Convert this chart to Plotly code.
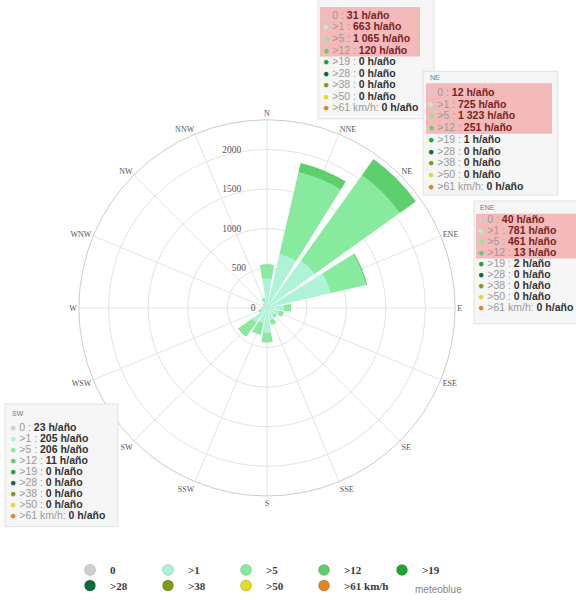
import plotly.graph_objects as go

# Wind rose: hours per year by direction and wind speed class
directions = ["N", "NNE", "NE", "ENE", "E", "ESE", "SE", "SSE",
              "S", "SSW", "SW", "WSW", "W", "WNW", "NW", "NNW"]
speed_labels = ["0", ">1", ">5", ">12", ">19", ">28", ">38", ">50", ">61 km/h"]
speed_colors = ["#cfcfcf", "#aef3d8", "#88ea9e", "#5dcf6c", "#1ea62b",
                "#0b6b3b", "#7d9b16", "#e3dc1c", "#e0861c"]

hours_0 = [10, 31, 12, 40, 10, 8, 6, 8, 15, 15, 23, 10, 8, 5, 5, 8]
hours_1 = [360, 663, 725, 781, 200, 150, 110, 150, 300, 180, 205, 60, 40, 30, 40, 80]
hours_5 = [175, 1065, 1323, 461, 90, 60, 40, 60, 120, 150, 206, 40, 20, 10, 20, 40]
hours_12 = [5, 120, 251, 13, 5, 2, 1, 2, 3, 5, 11, 1, 0, 0, 0, 1]
hours_19 = [0, 0, 1, 2, 0, 0, 0, 0, 0, 0, 0, 0, 0, 0, 0, 0]
hours_28 = [0, 0, 0, 0, 0, 0, 0, 0, 0, 0, 0, 0, 0, 0, 0, 0]
hours_38 = [0, 0, 0, 0, 0, 0, 0, 0, 0, 0, 0, 0, 0, 0, 0, 0]
hours_50 = [0, 0, 0, 0, 0, 0, 0, 0, 0, 0, 0, 0, 0, 0, 0, 0]
hours_61 = [0, 0, 0, 0, 0, 0, 0, 0, 0, 0, 0, 0, 0, 0, 0, 0]

radial_ticks = [0, 500, 1000, 1500, 2000]

series = [hours_0, hours_1, hours_5, hours_12, hours_19,
          hours_28, hours_38, hours_50, hours_61]

W, H = 576, 600
SERIF = "Liberation Serif"
SANS = "Liberation Sans"
FIG_SPACE = "\u2007"


def px_x(x):
    return x / W


def px_y(y):
    return 1 - y / H


fig = go.Figure()

# stacked bars, one trace per speed class (width in category units)
for lab, vals, col in zip(speed_labels, series, speed_colors):
    fig.add_trace(go.Barpolar(
        r=vals, theta=directions, name=lab, width=0.84,
        marker=dict(color=col, line=dict(width=0)),
        legendgroup=lab, showlegend=False,
    ))

# circular legend markers, laid out on two rows
for i, (lab, col) in enumerate(zip(speed_labels, speed_colors)):
    fig.add_trace(go.Scatterpolar(
        r=[None], theta=[None], mode="markers", name=f"<b>{lab}</b>",
        marker=dict(color=col, size=11, symbol="circle",
                    line=dict(color="rgba(0,0,0,0.15)", width=1)),
        legendgroup=lab, showlegend=True,
        legend="legend" if i < 5 else "legend2",
    ))
# blank slot so the last entry of the second row has room for its text
fig.add_trace(go.Scatterpolar(
    r=[None], theta=[None], mode="markers", name=" ",
    marker=dict(color="rgba(0,0,0,0)", size=1),
    showlegend=True, legend="legend2", hoverinfo="skip",
))

cx, cy, rad = 267, 311, 190
legend_style = dict(
    orientation="h", xanchor="left", yanchor="top",
    entrywidth=33, entrywidthmode="pixels",
    font=dict(family=SERIF, size=11, color="#3a3a3a"),
    bgcolor="rgba(0,0,0,0)", itemclick=False, tracegroupgap=0,
)


def fmt(v):
    return f"{v:,}".replace(",", " ")


def row_text(idx, k, highlight):
    lab, vals, col = speed_labels[k], series[k], speed_colors[k]
    sep = ": " if lab.endswith("km/h") else " : "
    vcol = "#7a2222" if highlight else "#333"
    return (f"<span style='color:{col}'>●</span> "
            f"<span style='color:#9a9a9a'>{lab}{sep}</span>"
            f"<span style='color:{vcol}'><b>{fmt(vals[idx])} h/año</b></span>")


# radial labels sit just left of the north spoke: pad each one with
# digit-wide spaces so its visible digits end before the line
radial_text = [str(v) + FIG_SPACE * (len(str(v)) + 1) for v in radial_ticks]

# direction, box (l, t, r, b), pink band (l, t, r, b) or None,
# header y (None: above the page), first row y, row step, text left
boxes = [
    ("NNE", (318, -6, 434, 120), (320, 7, 420, 57), None, 15.0, 11.67, 322),
    ("NE", (423, 72, 558, 197), (426, 84, 552, 135), 78, 92.7, 11.88, 427),
    ("ENE", (474, 203, 580, 327), (476, 216, 580, 261), 210, 221.7, 11.04, 477),
    ("SW", (5, 408, 118, 532), None, 418, 431.0, 11.13, 9),
]
shapes = []
annotations = []
for name, box, pink, hy, y0, step, tx in boxes:
    idx = directions.index(name)
    shapes.append(dict(type="rect", xref="paper", yref="paper",
                       x0=px_x(box[0]), x1=px_x(box[2]),
                       y0=px_y(box[1]), y1=px_y(box[3]),
                       fillcolor="rgba(246,246,246,0.95)",
                       line=dict(color="rgba(210,210,210,0.6)", width=1),
                       layer="above"))
    if pink:
        shapes.append(dict(type="rect", xref="paper", yref="paper",
                           x0=px_x(pink[0]), x1=px_x(pink[2]),
                           y0=px_y(pink[1]), y1=px_y(pink[3]),
                           fillcolor="rgba(244,170,170,0.8)",
                           line=dict(width=0), layer="above"))
    if hy is not None:
        annotations.append(dict(
            text=name, xref="paper", yref="paper",
            x=px_x(tx + 1), y=px_y(hy), xanchor="left", yanchor="middle",
            showarrow=False, font=dict(family=SANS, size=7, color="#777"),
        ))
    for k in range(len(speed_labels)):
        annotations.append(dict(
            text=row_text(idx, k, pink is not None and k < 4),
            xref="paper", yref="paper",
            x=px_x(tx), y=px_y(y0 + k * step), xanchor="left", yanchor="middle",
            align="left", showarrow=False, borderpad=0,
            font=dict(family=SANS, size=10.5, color="#333"),
        ))

annotations.append(dict(
    text="meteoblue", xref="paper", yref="paper",
    x=px_x(438), y=px_y(595), xanchor="center", yanchor="middle",
    showarrow=False, font=dict(family=SANS, size=10, color="#888"),
))

fig.update_layout(
    width=W, height=H,
    margin=dict(l=0, r=0, t=0, b=0),
    paper_bgcolor="white",
    polar=dict(
        domain=dict(x=[px_x(cx - rad), px_x(cx + rad)],
                    y=[1 - (cy + rad) / H, 1 - (cy - rad) / H]),
        bgcolor="white",
        barmode="stack",
        radialaxis=dict(
            range=[0, 2375], tickvals=radial_ticks, ticktext=radial_text,
            showline=False, ticks="", gridcolor="#e3e3e3", gridwidth=1,
            angle=90, tickangle=90,
            tickfont=dict(family=SERIF, size=9.5, color="#555"),
            side="counterclockwise",
        ),
        angularaxis=dict(
            direction="clockwise", rotation=90, type="category",
            categoryarray=directions, ticks="",
            gridcolor="#e3e3e3", linecolor="#cccccc", showline=True,
            tickfont=dict(family=SERIF, size=8, color="#555"),
        ),
    ),
    legend=dict(x=px_x(70), y=px_y(561), **legend_style),
    legend2=dict(x=px_x(70), y=px_y(577), **legend_style),
    shapes=shapes,
    annotations=annotations,
)

fig.write_html("out.html")
